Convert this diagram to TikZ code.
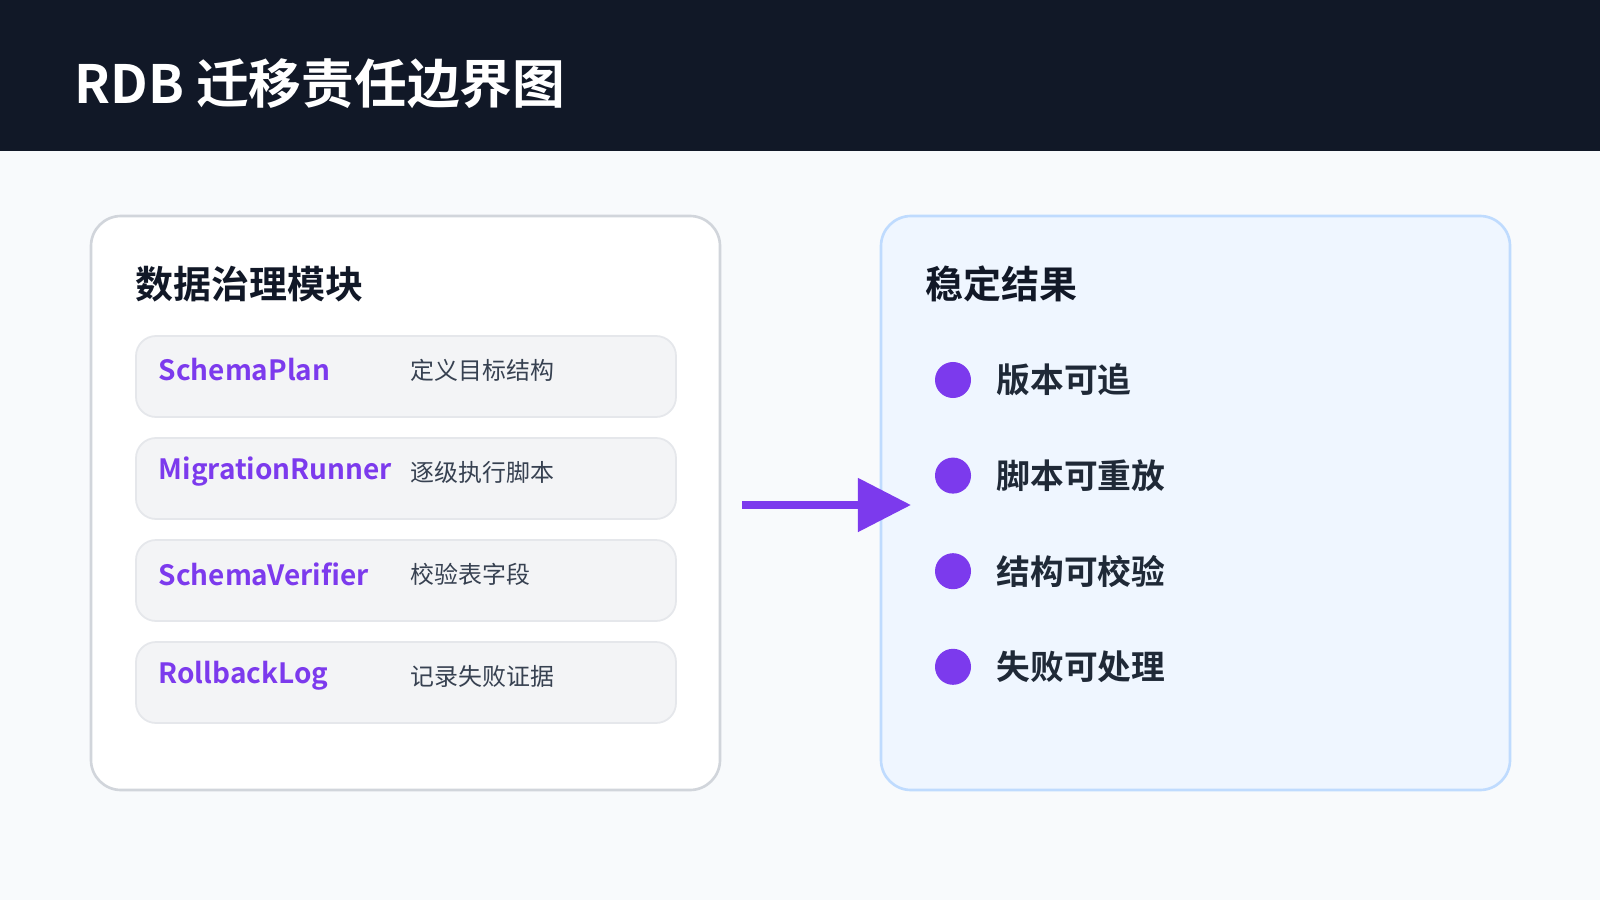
\documentclass[tikz,border=0pt]{standalone}
\usepackage{fontspec}
\setmainfont{Noto Sans CJK SC}
\newfontfamily\cjkbold{Noto Sans CJK SC Bold}
\usetikzlibrary{calc,arrows.meta,positioning}

\definecolor{bgCol}{HTML}{F8FAFC}
\definecolor{headCol}{HTML}{111827}
\definecolor{panelLine}{HTML}{D1D5DB}
\definecolor{rowFill}{HTML}{F3F4F6}
\definecolor{rowLine}{HTML}{E5E7EB}
\definecolor{violet}{HTML}{7C3AED}
\definecolor{descCol}{HTML}{374151}
\definecolor{resFill}{HTML}{EFF6FF}
\definecolor{resLine}{HTML}{BFDBFE}
\definecolor{itemCol}{HTML}{1F2937}

\tikzset{
  panel/.style={draw=panelLine, fill=white, line width=0.75pt, rounded corners=0.3cm},
  respanel/.style={draw=resLine, fill=resFill, line width=0.75pt, rounded corners=0.3cm},
  rowbox/.style={draw=rowLine, fill=rowFill, line width=0.5pt, rounded corners=0.2cm},
  heading/.style={anchor=west, inner sep=0pt, text=headCol, font=\cjkbold\fontsize{10.8pt}{12pt}\selectfont},
  modname/.style={anchor=west, inner sep=0pt, text=violet, font=\cjkbold\fontsize{7.95pt}{10pt}\selectfont},
  moddesc/.style={anchor=west, inner sep=0pt, text=descCol, font=\fontsize{6.8pt}{8pt}\selectfont},
  dot/.style={circle, fill=violet, minimum size=0.36cm, inner sep=0pt},
  item/.style={anchor=west, inner sep=0pt, text=itemCol, font=\cjkbold\fontsize{9.6pt}{11pt}\selectfont}
}

\begin{document}
\begin{tikzpicture}[x=0.01cm, y=-0.01cm]

% 背景与标题栏
\fill[bgCol] (0,0) rectangle (1600,900);
\useasboundingbox (0,0) rectangle (1600,900);
\fill[headCol] (0,0) rectangle (1600,151);
\node[anchor=west, inner sep=0pt, text=white, font=\cjkbold\fontsize{15pt}{17pt}\selectfont] (title) at (74,84) {RDB 迁移责任边界图};

% 左侧模块
\draw[panel] (91,216) rectangle (720,790);
\node[heading] (modHead) at (135,284) {数据治理模块};
\foreach \y/\nm/\ds [count=\i] in {0/SchemaPlan/定义目标结构,
                                   1/MigrationRunner/逐级执行脚本,
                                   2/SchemaVerifier/校验表字段,
                                   3/RollbackLog/记录失败证据}
{
    \begin{scope}[shift={(0,102*\y)}]
    \draw[rowbox] (136,336) rectangle (676,417);
    \node[modname] (mod\i) at (158,370) {\nm};
    \node[moddesc] (desc\i) at (410,370) {\ds};
    \end{scope}
}

% 右侧结果
\draw[respanel] (881,216) rectangle (1510,790);
\node[heading] (resHead) at (925,284) {稳定结果};
\foreach \y/\txt [count=\i] in {0/版本可追, 1/脚本可重放, 2/结构可校验, 3/失败可处理}
{
    \node[dot] (dot\i) at (953,380+95.6*\y) {};
    \node[item] (res\i) at (996,380+95.6*\y) {\txt};
}

% 箭头
\coordinate (arrowA) at (742,505);
\coordinate (arrowB) at (911,505);
\draw[violet, line width=2.3pt, -{Triangle[length=0.53cm, width=0.52cm]}] (arrowA) -- (arrowB);

\end{tikzpicture}
\end{document}
